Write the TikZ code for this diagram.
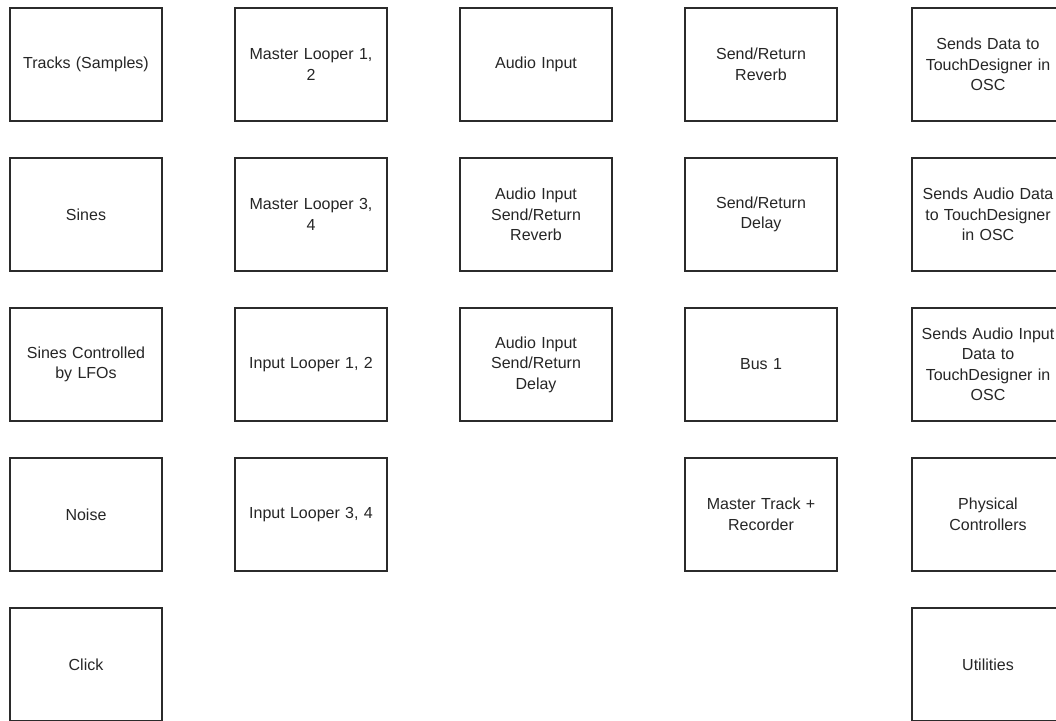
\documentclass[tikz,border=0pt]{standalone}
\usepackage{fontspec}
\setmainfont{Liberation Sans}
\definecolor{GridInk}{HTML}{2B2B2B}
\definecolor{GridText}{HTML}{262626}
\usepackage{tikz}
\usetikzlibrary{positioning}

\begin{document}
\begin{tikzpicture}[x=1pt,y=-1pt,
      block/.style={draw=GridInk,line width=1.3pt,fill=white,
                    minimum width=152pt,minimum height=113pt,
                    text width=148pt,align=center,inner sep=0pt,
                    text=GridText,font=\fontsize{16}{20.5}\selectfont}]
    \clip (0,0) rectangle (1056,720);
    \fill[white] (0,0) rectangle (1056,720);
    % column 1: sources
    \node[block] (tracks) at (86,64.5) {Tracks (Samples)};
    \node[block] (sines) at (86,214.5) {Sines};
    \node[block] (lfosines) at (86,364.5) {Sines Controlled\\by LFOs};
    \node[block] (noise) at (86,514.5) {Noise};
    \node[block] (click) at (86,664.5) {Click};
    % column 2: loopers
    \node[block] (mlooptwo) at (311,64.5) {Master Looper 1,\\2};
    \node[block] (mloopfour) at (311,214.5) {Master Looper 3,\\4};
    \node[block] (iloopone) at (311,364.5) {Input Looper 1, 2};
    \node[block] (iloopthree) at (311,514.5) {Input Looper 3, 4};
    % column 3: audio input
    \node[block] (audioin) at (536,64.5) {Audio Input};
    \node[block] (inreverb) at (536,214.5) {Audio Input\\Send/Return\\Reverb};
    \node[block] (indelay) at (536,364.5) {Audio Input\\Send/Return\\Delay};
    % column 4: returns and master
    \node[block] (reverb) at (761,64.5) {Send/Return\\Reverb};
    \node[block] (delay) at (761,214.5) {Send/Return\\Delay};
    \node[block] (busone) at (761,364.5) {Bus 1};
    \node[block] (master) at (761,514.5) {Master Track +\\Recorder};
    % column 5: control and OSC
    \node[block] (oscdata) at (988,64.5) {Sends Data to\\TouchDesigner in\\OSC};
    \node[block] (oscaudio) at (988,214.5) {Sends Audio Data\\to TouchDesigner\\in OSC};
    \node[block] (oscinput) at (988,364.5) {Sends Audio Input\\Data to\\TouchDesigner in\\OSC};
    \node[block] (controls) at (988,514.5) {Physical\\Controllers};
    \node[block] (utils) at (988,664.5) {Utilities};
  \end{tikzpicture}
\end{document}
